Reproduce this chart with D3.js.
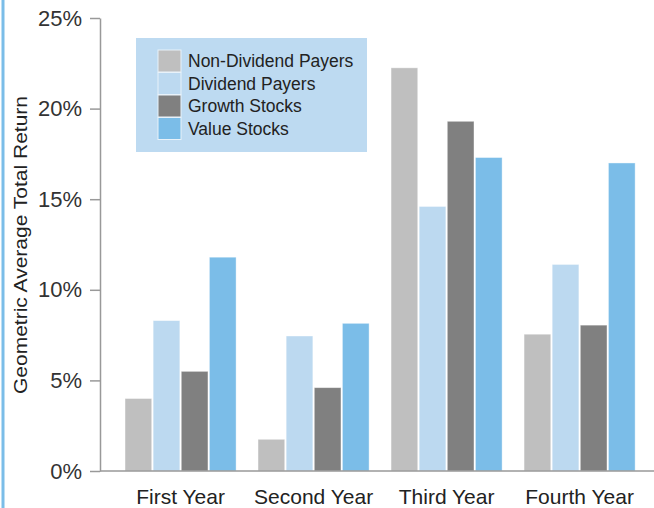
<!DOCTYPE html>
<html>
<head>
<meta charset="utf-8">
<script src="https://cdn.jsdelivr.net/npm/d3@7"></script>
<style>
  body { margin: 0; background: #fff; }
  text { font-family: "Liberation Sans", Arial, sans-serif; }
</style>
</head>
<body>
<div id="chart"></div>
<script>
// Chart data
const years = ['First Year', 'Second Year', 'Third Year', 'Fourth Year'];
const seriesNames = ['Non-Dividend Payers', 'Dividend Payers', 'Growth Stocks', 'Value Stocks'];
const nonDividend = [4.0, 1.75, 22.25, 7.55];
const dividend = [8.3, 7.45, 14.6, 11.4];
const growth = [5.5, 4.6, 19.3, 8.05];
const value = [11.8, 8.15, 17.3, 17.0];
const yTicks = [0, 5, 10, 15, 20, 25];
const colors = ['#bfbfbf', '#bcd9f0', '#808080', '#7bbde8'];

const seriesValues = [nonDividend, dividend, growth, value];
const rows = years.map((y, i) => ({
  year: y,
  vals: seriesNames.map((s, j) => ({ key: s, v: seriesValues[j][i] }))
}));

const W = 654, H = 508;
const svg = d3.select('#chart').append('svg')
  .attr('width', W)
  .attr('height', H);

// left accent line
svg.append('line')
  .attr('x1', 3).attr('x2', 3)
  .attr('y1', 0).attr('y2', H)
  .attr('stroke', '#7bbde8')
  .attr('stroke-width', 3);

const margin = {top: 18, left: 100, bottom: 37};
const yScale = d3.scaleLinear()
  .domain([0, 25])
  .range([H - margin.bottom, margin.top]);

const x0 = d3.scaleBand()
  .domain(years)
  .range([margin.left, W])
  .paddingInner(0.165)
  .paddingOuter(0.165)
  .align(0.57);

const x1 = d3.scaleBand()
  .domain(seriesNames)
  .range([0, x0.bandwidth()])
  .paddingInner(0.05);

const color = d3.scaleOrdinal().domain(seriesNames).range(colors);

// bars
const groups = svg.append('g').selectAll('g')
  .data(rows)
  .join('g')
  .attr('transform', d => `translate(${x0(d.year)},0)`);

groups.selectAll('rect')
  .data(d => d.vals)
  .join('rect')
  .attr('x', d => x1(d.key))
  .attr('width', x1.bandwidth())
  .attr('y', d => yScale(d.v))
  .attr('height', d => yScale(0) - yScale(d.v))
  .attr('fill', d => color(d.key))
  .attr('stroke', 'rgba(255,255,255,0.5)')
  .attr('stroke-width', 0.8);

// y axis
const yAxis = d3.axisLeft(yScale)
  .tickValues(yTicks)
  .tickFormat(d => d + '%')
  .tickSize(10)
  .tickSizeOuter(0)
  .tickPadding(8);

const yg = svg.append('g')
  .attr('transform', `translate(${margin.left},0)`)
  .call(yAxis);
yg.select('.domain').attr('stroke', '#999').attr('stroke-width', 1.5);
yg.selectAll('.tick line').attr('stroke', '#999').attr('stroke-width', 1.5);
yg.selectAll('.tick text')
  .attr('font-size', 22)
  .attr('fill', '#333')
  .style('font-family', '"Liberation Sans", Arial, sans-serif');

// x axis
const xAxis = d3.axisBottom(x0).tickSize(0).tickPadding(18);
const xg = svg.append('g')
  .attr('transform', `translate(0,${yScale(0)})`)
  .call(xAxis);
xg.select('.domain').attr('stroke', '#999').attr('stroke-width', 1.5)
  .attr('d', `M${margin.left},0H${W}`);
xg.selectAll('.tick text')
  .attr('font-size', 21)
  .attr('fill', '#222')
  .style('font-family', '"Liberation Sans", Arial, sans-serif');

// y axis title
svg.append('text')
  .attr('transform', 'translate(27,245) rotate(-90)')
  .attr('text-anchor', 'middle')
  .attr('font-size', 18.5)
  .attr('textLength', 298)
  .attr('lengthAdjust', 'spacingAndGlyphs')
  .attr('fill', '#222')
  .text('Geometric Average Total Return');

// legend
const legend = svg.append('g').attr('transform', 'translate(136,38)');
legend.append('rect')
  .attr('width', 231).attr('height', 114)
  .attr('fill', '#bddaf1');
const items = legend.selectAll('g.item')
  .data(seriesNames)
  .join('g')
  .attr('class', 'item')
  .attr('transform', (d, i) => `translate(22,${12 + i * 22.5})`);
items.append('rect')
  .attr('width', 23).attr('height', 22)
  .attr('fill', d => color(d))
  .attr('stroke', '#e8f2fa')
  .attr('stroke-width', 1);
items.append('text')
  .attr('x', 30).attr('y', 17)
  .attr('font-size', 17.5)
  .attr('fill', '#222')
  .text(d => d);
</script>
</body>
</html>
